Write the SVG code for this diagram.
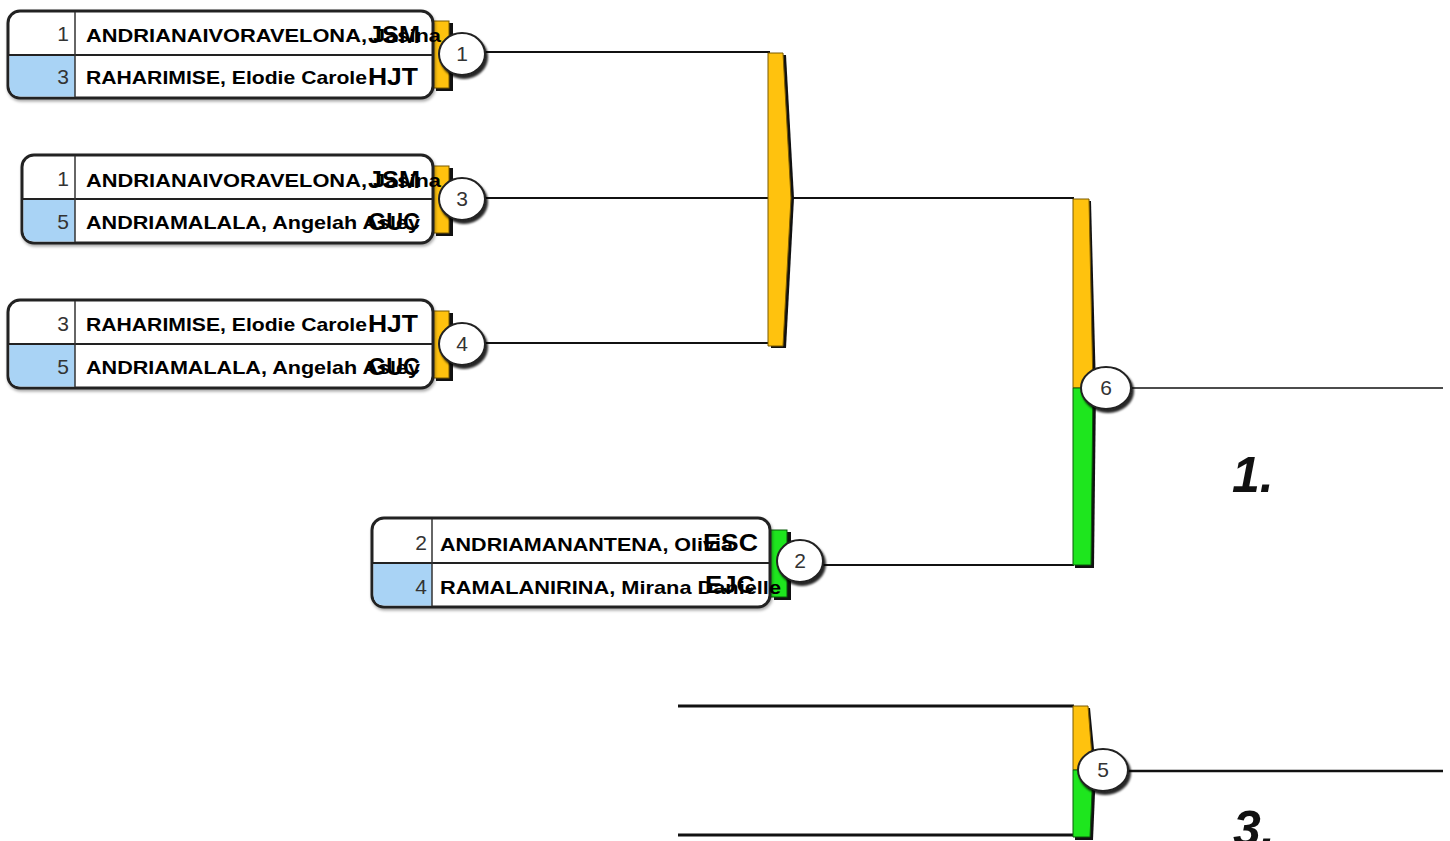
<svg xmlns="http://www.w3.org/2000/svg" width="1450" height="841" viewBox="0 0 1450 841">
<defs>
<filter id="sh" x="-20%" y="-20%" width="150%" height="150%"><feDropShadow dx="2" dy="3" stdDeviation="1" flood-color="#000" flood-opacity="0.85"/></filter>
<filter id="bsh" x="-5%" y="-5%" width="110%" height="115%"><feDropShadow dx="1" dy="2" stdDeviation="1.5" flood-color="#000" flood-opacity="0.35"/></filter>
</defs>
<style>
.box{fill:#fff;stroke:#222;stroke-width:3}
.blue{fill:#a9d3f5}
.div{stroke:#222;stroke-width:2}
.vdiv{stroke:#333;stroke-width:1.5}
.seed{font-family:"Liberation Sans",Arial,sans-serif;font-size:21px;fill:#333;text-anchor:end}
.name{font-family:"Liberation Sans",Arial,sans-serif;font-size:18.5px;font-weight:bold;fill:#000}
.team{font-family:"Liberation Sans",Arial,sans-serif;font-size:23px;font-weight:bold;fill:#000}
.gold{fill:#ffc20e;stroke:#7a5a00;stroke-width:1}
.green{fill:#1ee61e;stroke:#0a5a0a;stroke-width:1}
.tabsh{fill:#111}
.circ{fill:#fff;stroke:#222;stroke-width:2}
.clab{font-family:"Liberation Sans",Arial,sans-serif;font-size:21px;fill:#333;text-anchor:middle}
.ln{stroke:#111;stroke-width:2;fill:none}
.place{font-family:"Liberation Sans",Arial,sans-serif;font-size:50px;font-weight:bold;font-style:italic;fill:#111}
</style>

<g id="connectors">
<line class="ln" x1="484" y1="52" x2="770" y2="52"/>
<line class="ln" x1="484" y1="198" x2="1074" y2="198"/>
<line class="ln" x1="484" y1="343" x2="770" y2="343"/>
<line class="ln" x1="822" y1="565" x2="1074" y2="565"/>
<line class="ln" x1="1130" y1="388" x2="1443" y2="388" style="stroke-width:1.6"/>
<line class="ln" x1="678" y1="706" x2="1074" y2="706" style="stroke-width:3"/>
<line class="ln" x1="678" y1="835" x2="1074" y2="835" style="stroke-width:3"/>
<line class="ln" x1="1128" y1="771" x2="1443" y2="771" style="stroke-width:2.5"/>
</g>

<g id="bracket-a">
<polygon class="tabsh" points="771,55 786,55 794,198 786,348 771,348"/>
<polygon class="gold" points="768,53 783,53 791,198 783,346 768,346"/>
</g>
<g id="bracket-b">
<polygon class="tabsh" points="1075,201 1091,201 1096,388 1094,568 1075,568"/>
<polygon class="gold" points="1073,199 1089,199 1093,388 1073,388"/>
<polygon class="green" points="1073,388 1093,388 1091,565 1073,565"/>
</g>
<g id="bracket-c">
<polygon class="tabsh" points="1075,708 1090,708 1096,770 1093,840 1075,840"/>
<polygon class="gold" points="1073,706 1088,706 1093,770 1073,770"/>
<polygon class="green" points="1073,770 1093,770 1090,837 1073,837"/>
</g>

<g id="match-1">
<rect class="tabsh" x="436" y="23" width="17" height="68"/>
<rect class="gold" x="432" y="21" width="17" height="67"/>
<rect class="box" x="8" y="11" width="425" height="87" rx="12" filter="url(#bsh)"/>
<path class="blue" d="M9.5,55 H75 V96.5 H21 Q9.5,96.5 9.5,85 Z"/>
<line class="div" x1="9" y1="55" x2="432" y2="55"/>
<line class="vdiv" x1="75" y1="12" x2="75" y2="97"/>
<text class="seed" x="69" y="41">1</text>
<text class="seed" x="69" y="84">3</text>
<text class="name" x="86" y="42" textLength="355" lengthAdjust="spacingAndGlyphs">ANDRIANAIVORAVELONA, Jasina</text>
<text class="team" x="368" y="43" textLength="52" lengthAdjust="spacingAndGlyphs">JSM</text>
<text class="name" x="86" y="84" textLength="281" lengthAdjust="spacingAndGlyphs">RAHARIMISE, Elodie Carole</text>
<text class="team" x="368" y="85" textLength="50" lengthAdjust="spacingAndGlyphs">HJT</text>
<ellipse class="circ" cx="462" cy="54" rx="23" ry="21" filter="url(#sh)"/>
<text class="clab" x="462" y="61">1</text>
</g>

<g id="match-3">
<rect class="tabsh" x="436" y="168" width="17" height="68"/>
<rect class="gold" x="432" y="166" width="17" height="67"/>
<rect class="box" x="22" y="155" width="411" height="88" rx="12" filter="url(#bsh)"/>
<path class="blue" d="M23.5,199 H75 V241.5 H35 Q23.5,241.5 23.5,230 Z"/>
<line class="div" x1="23" y1="199" x2="432" y2="199"/>
<line class="vdiv" x1="75" y1="156" x2="75" y2="242"/>
<text class="seed" x="69" y="186">1</text>
<text class="seed" x="69" y="229">5</text>
<text class="name" x="86" y="187" textLength="355" lengthAdjust="spacingAndGlyphs">ANDRIANAIVORAVELONA, Jasina</text>
<text class="team" x="368" y="188" textLength="52" lengthAdjust="spacingAndGlyphs">JSM</text>
<text class="name" x="86" y="229" textLength="334" lengthAdjust="spacingAndGlyphs">ANDRIAMALALA, Angelah Asley</text>
<text class="team" x="368" y="230" textLength="52" lengthAdjust="spacingAndGlyphs">GUC</text>
<ellipse class="circ" cx="462" cy="199" rx="23" ry="21" filter="url(#sh)"/>
<text class="clab" x="462" y="206">3</text>
</g>

<g id="match-4">
<rect class="tabsh" x="436" y="313" width="17" height="68"/>
<rect class="gold" x="432" y="311" width="17" height="67"/>
<rect class="box" x="8" y="300" width="425" height="88" rx="12" filter="url(#bsh)"/>
<path class="blue" d="M9.5,344 H75 V386.5 H21 Q9.5,386.5 9.5,375 Z"/>
<line class="div" x1="9" y1="344" x2="432" y2="344"/>
<line class="vdiv" x1="75" y1="301" x2="75" y2="387"/>
<text class="seed" x="69" y="331">3</text>
<text class="seed" x="69" y="374">5</text>
<text class="name" x="86" y="331" textLength="281" lengthAdjust="spacingAndGlyphs">RAHARIMISE, Elodie Carole</text>
<text class="team" x="368" y="332" textLength="50" lengthAdjust="spacingAndGlyphs">HJT</text>
<text class="name" x="86" y="374" textLength="334" lengthAdjust="spacingAndGlyphs">ANDRIAMALALA, Angelah Asley</text>
<text class="team" x="368" y="375" textLength="52" lengthAdjust="spacingAndGlyphs">GUC</text>
<ellipse class="circ" cx="462" cy="344" rx="23" ry="21" filter="url(#sh)"/>
<text class="clab" x="462" y="351">4</text>
</g>

<g id="match-2">
<rect class="tabsh" x="774" y="532" width="17" height="68"/>
<rect class="green" x="770" y="530" width="17" height="67"/>
<rect class="box" x="372" y="518" width="398" height="89" rx="12" filter="url(#bsh)"/>
<path class="blue" d="M373.5,563 H432 V605.5 H385 Q373.5,605.5 373.5,594 Z"/>
<line class="div" x1="373" y1="563" x2="769" y2="563"/>
<line class="vdiv" x1="432" y1="519" x2="432" y2="606"/>
<text class="seed" x="427" y="550">2</text>
<text class="seed" x="427" y="594">4</text>
<text class="name" x="440" y="551" textLength="293" lengthAdjust="spacingAndGlyphs">ANDRIAMANANTENA, Olivia</text>
<text class="team" x="703" y="551" textLength="55" lengthAdjust="spacingAndGlyphs">ESC</text>
<text class="name" x="440" y="594" textLength="341" lengthAdjust="spacingAndGlyphs">RAMALANIRINA, Mirana Danielle</text>
<text class="team" x="705" y="593" textLength="50" lengthAdjust="spacingAndGlyphs">EJC</text>
<ellipse class="circ" cx="800" cy="561" rx="23" ry="21" filter="url(#sh)"/>
<text class="clab" x="800" y="568">2</text>
</g>

<g id="match-6">
<ellipse class="circ" cx="1106" cy="388" rx="25" ry="21" filter="url(#sh)"/>
<text class="clab" x="1106" y="395">6</text>
</g>
<g id="match-5">
<ellipse class="circ" cx="1103" cy="770" rx="25" ry="21" filter="url(#sh)"/>
<text class="clab" x="1103" y="777">5</text>
</g>

<g id="place-1"><text class="place" x="1232" y="492">1.</text></g>
<g id="place-3"><text class="place" x="1233" y="846">3.</text></g>
</svg>
